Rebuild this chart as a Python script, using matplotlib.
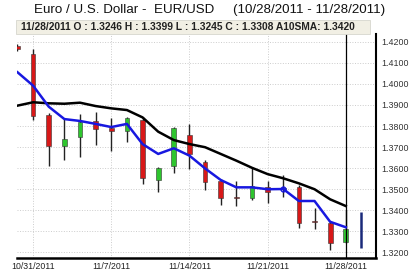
import numpy as np
import matplotlib.pyplot as plt
from matplotlib.patches import Rectangle

plt.rcParams['font.family'] = ['Liberation Sans', 'DejaVu Sans']

dates = ['10/28/2011', '10/31/2011', '11/1/2011', '11/2/2011', '11/3/2011', '11/4/2011',
         '11/7/2011', '11/8/2011', '11/9/2011', '11/10/2011', '11/11/2011',
         '11/14/2011', '11/15/2011', '11/16/2011', '11/17/2011', '11/18/2011',
         '11/21/2011', '11/22/2011', '11/23/2011', '11/24/2011', '11/25/2011',
         '11/28/2011']
opens = [1.4180, 1.4143, 1.3852, 1.3707, 1.3750, 1.3824, 1.3790, 1.3776, 1.3829, 1.3543, 1.3610,
         1.3757, 1.3630, 1.3538, 1.3462, 1.3459, 1.3508, 1.3500, 1.3508, 1.3346, 1.3340, 1.3246]
highs = [1.4190, 1.4167, 1.3862, 1.3833, 1.3857, 1.3868, 1.3837, 1.3844, 1.3844, 1.3603, 1.3794,
         1.3810, 1.3638, 1.3548, 1.3540, 1.3606, 1.3538, 1.3567, 1.3519, 1.3408, 1.3349, 1.3399]
lows = [1.4155, 1.3829, 1.3610, 1.3638, 1.3652, 1.3710, 1.3682, 1.3725, 1.3522, 1.3484, 1.3578,
        1.3594, 1.3495, 1.3424, 1.3419, 1.3448, 1.3432, 1.3463, 1.3313, 1.3310, 1.3210, 1.3245]
closes = [1.4165, 1.3849, 1.3705, 1.3740, 1.3817, 1.3786, 1.3778, 1.3840, 1.3551, 1.3598, 1.3789,
          1.3665, 1.3535, 1.3456, 1.3458, 1.3514, 1.3487, 1.3505, 1.3340, 1.3343, 1.3241, 1.3308]
fast_line = [1.4056, 1.3992, 1.3892, 1.3833, 1.3824, 1.3810, 1.3795, 1.3810, 1.3714, 1.3667, 1.3694,
             1.3659, 1.3598, 1.3543, 1.3508, 1.3508, 1.3499, 1.3500, 1.3443, 1.3443, 1.3344, 1.3318]
sma10 = [1.3897, 1.3913, 1.3908, 1.3906, 1.3911, 1.3895, 1.3884, 1.3876, 1.3841, 1.3773, 1.3733,
         1.3714, 1.3699, 1.3667, 1.3635, 1.3601, 1.3571, 1.3551, 1.3527, 1.3499, 1.3451, 1.3419]
# today's (11/29) partial bar, high/low only
today_high, today_low = 1.3390, 1.3220

tick_idx = [1, 6, 11, 16, 21]
yticks = [1.32, 1.33, 1.34, 1.35, 1.36, 1.37, 1.38, 1.39, 1.40, 1.41, 1.42]

fig = plt.figure(figsize=(4.09, 2.72), dpi=100)
ax = fig.add_axes([0.0416, 0.0533, 0.8765, 0.8217])

x = np.arange(len(dates))
o = np.array(opens)
c = np.array(closes)
up = c >= o

ax.vlines(x, lows, highs, color='#222222', lw=1, zorder=2)
body_bottom = np.minimum(o, c)
body_h = np.maximum(np.abs(c - o), 0.0004)
ax.bar(x, body_h, bottom=body_bottom, width=0.3,
       color=np.where(up, '#2ec52e', '#d81818'), edgecolor='#333333', lw=0.4, zorder=3)

ax.vlines(len(dates), today_low, today_high, color='#1a2a7a', lw=1.8, zorder=3)

ax.plot(x, sma10, color='black', lw=1.8, zorder=4)
ax.plot(x, fast_line, color='#1818e0', lw=1.8, zorder=5)
ax.plot(x[17], fast_line[17], 'o', ms=3.5, mfc='none', mec='#1818e0', mew=1, zorder=6)

ax.axvline(21, color='black', lw=0.9, zorder=4)

ax.set_xlim(-0.03, 22.9)
ax.set_ylim(1.3174, 1.4238)
ax.set_xticks(tick_idx)
ax.set_xticklabels([dates[i] for i in tick_idx], fontsize=6.3, color='#222222')
ax.set_yticks(yticks)
ax.set_yticklabels(['%.4f' % v for v in yticks], fontsize=6.4, color='#333333')
ax.yaxis.tick_right()
ax.tick_params(axis='both', length=0)
ax.tick_params(axis='y', pad=4)
ax.tick_params(axis='x', pad=3)
ax.grid(True, color='#cccccc', ls=':', lw=0.7)
ax.set_axisbelow(True)
for s in ['left', 'top']:
    ax.spines[s].set_visible(False)
ax.spines['bottom'].set_linewidth(1.8)
ax.spines['right'].set_linewidth(1.5)

fig.text(0.513, 0.965, 'Euro / U.S. Dollar -  EUR/USD     (10/28/2011 - 11/28/2011)',
         ha='center', va='center', fontsize=9.6, color='#111111')
fig.patches.append(Rectangle((0.039, 0.875), 0.866, 0.051, transform=fig.transFigure,
                             facecolor='#f1efe4', edgecolor='#d6d6ce', lw=0.6, zorder=0))
fig.text(0.051, 0.901, '11/28/2011 O : 1.3246 H : 1.3399 L : 1.3245 C : 1.3308 A10SMA: 1.3420',
         ha='left', va='center', fontsize=7.4, fontweight='bold', color='#222222')

fig.savefig('out.png', dpi=100)
